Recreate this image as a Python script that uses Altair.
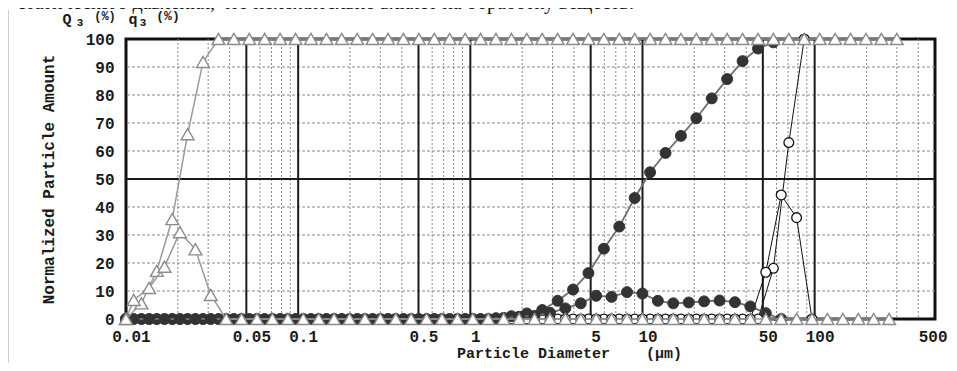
import altair as alt
import pandas as pd

# ---------------- data ----------------
# channel edges (um) used by the cumulative curves
grid_um = [0.01, 0.01229, 0.0151, 0.01856, 0.0228, 0.02802, 0.03444, 0.04232, 0.05201,
           0.06391, 0.07854, 0.0966, 0.1187, 0.1459, 0.1793, 0.2203, 0.2707, 0.3327,
           0.4088, 0.5024, 0.6174, 0.7588, 0.933, 1.147, 1.409, 1.732, 2.128, 2.615,
           3.214, 3.95, 4.854, 5.965, 7.331, 9.009, 11.07, 13.61, 16.72, 20.55, 25.25,
           31.03, 38.14, 46.87, 57.59, 70.78, 86.98, 107.0, 131.5, 161.6, 198.6, 244.1, 300.0]
# channel centres (um) used by the frequency curves (first point at the axis start)
mid_um = [0.01, 0.01109, 0.01362, 0.01674, 0.02057, 0.02529, 0.03107, 0.03819, 0.04693,
          0.05767, 0.07087, 0.0871, 0.1071, 0.1315, 0.1617, 0.1987, 0.2442, 0.3001,
          0.3688, 0.4532, 0.557, 0.6845, 0.8413, 1.034, 1.271, 1.562, 1.92, 2.36, 2.9,
          3.564, 4.379, 5.382, 6.614, 8.129, 9.992, 12.28, 15.09, 18.55, 22.8, 28.02,
          34.43, 42.31, 52.0, 63.91, 78.55, 96.52, 118.6, 145.8, 179.2, 220.2, 270.6]

# sample A (grey triangles)
tri_cum = [0, 5.6, 17.2, 35.7, 66.0, 91.8, 100, 100, 100, 100, 100, 100, 100, 100, 100,
           100, 100, 100, 100, 100, 100, 100, 100, 100, 100, 100, 100, 100, 100, 100, 100,
           100, 100, 100, 100, 100, 100, 100, 100, 100, 100, 100, 100, 100, 100, 100, 100,
           100, 100, 100, 100]
tri_freq = [0, 6.8, 11.1, 18.7, 31.0, 24.9, 8.6, 0, 0, 0, 0, 0, 0, 0, 0, 0, 0, 0, 0, 0,
            0, 0, 0, 0, 0, 0, 0, 0, 0, 0, 0, 0, 0, 0, 0, 0, 0, 0, 0, 0, 0, 0, 0, 0, 0, 0,
            0, 0, 0, 0, 0]
# sample B (filled circles)
blk_cum = [0, 0, 0, 0, 0, 0, 0, 0, 0, 0, 0, 0, 0, 0, 0, 0, 0, 0, 0, 0, 0, 0, 0, 0,
           0.3, 1.0, 2.0, 3.2, 6.5, 10.5, 16.4, 25.1, 33.0, 43.2, 52.4, 59.3, 65.4, 71.7,
           78.8, 85.7, 92.1, 96.6, 98.8]
blk_freq = [0, 0, 0, 0, 0, 0, 0, 0, 0, 0, 0, 0, 0, 0, 0, 0, 0, 0, 0, 0, 0, 0, 0, 0, 0,
            0.4, 0.8, 1.1, 2.2, 3.8, 5.6, 8.3, 7.9, 9.6, 9.1, 6.5, 5.6, 5.9, 6.3, 6.6, 6.0,
            4.5, 2.1, 0]
# sample C (open circles)
opn_cum = [0, 0, 0, 0, 0, 0, 0, 0, 0, 0, 0, 0, 0, 0, 0, 0, 0, 0, 0, 0, 0, 0, 0, 0, 0, 0,
           0, 0, 0, 0, 0, 0, 0, 0, 0, 0, 0, 0, 0, 0, 0, 0, 18.1, 63.0, 100]
opn_freq = [0, 0, 0, 0, 0, 0, 0, 0, 0, 0, 0, 0, 0, 0, 0, 0, 0, 0, 0, 0, 0, 0, 0, 0, 0, 0,
            0, 0, 0, 0, 0, 0, 0, 0, 0, 0, 0, 0, 0, 0, 0, 0, 16.7, 44.3, 36.2, 0]

x_labels = [0.01, 0.05, 0.1, 0.5, 1, 5, 10, 50, 100, 500]
y_labels = [0, 10, 20, 30, 40, 50, 60, 70, 80, 90, 100]
major_x = [0.05, 0.1, 0.5, 1, 5, 10, 50, 100]
minor_x = [0.02, 0.03, 0.04, 0.06, 0.07, 0.08, 0.09, 0.2, 0.3, 0.4, 0.6, 0.7, 0.8, 0.9,
           2, 3, 4, 6, 7, 8, 9, 20, 30, 40, 60, 70, 80, 90, 200, 300, 400]
major_y = [50]
minor_y = [10, 20, 30, 40, 60, 70, 80, 90]

header_text = "статического давления, что положительно влияет на обработку веществ."
unit_texts = ["Q", "3", "(%)", "q", "3", "(%)"]
x_title = "Particle Diameter\u00a0\u00a0\u00a0\u00a0(\u03bcm)"
y_title = "Normalized Particle Amount"

# ---------------- layout / style ----------------
W, H = 809, 280
FONT = "Liberation Mono"
xs = alt.Scale(type="log", domain=[0.01, 500], nice=False)
ys = alt.Scale(domain=[0, 100], nice=False, zero=False)

AX_X = alt.Axis(values=x_labels, format="~g", grid=False, ticks=False, tickSize=0,
                domain=False, labelFont=FONT, labelFontSize=16, labelFontWeight="bold",
                labelColor="#1a1a1a", labelBaseline="middle", labelPadding=17,
                labelOffset={"condition": {"test": "datum.value >= 500", "value": 12},
                             "value": 5},
                labelAlign={"condition": {"test": "datum.value >= 500", "value": "right"},
                            "value": "center"},
                labelOverlap=False, labelFlush=False, labelBound=False,
                titleFont=FONT, titleFontSize=15, titleFontWeight="bold",
                titleColor="#1a1a1a", titleX=443, titleY=33, titleAlign="center",
                titleBaseline="middle")
AX_Y = alt.Axis(values=y_labels, grid=False, ticks=False, tickSize=0, domain=False,
                labelFont=FONT, labelFontSize=16, labelFontWeight="bold",
                labelColor="#1a1a1a", labelPadding=12, titleFont=FONT, titleFontSize=16,
                titleFontWeight="bold", titleColor="#1a1a1a", titleAngle=-90,
                titleX=-78, titleY=140, titleAlign="center", titleBaseline="middle")

unit_pos = [(-59, -20, 15), (-46, -16, 11), (-21, -23, 12),
            (7, -20, 15), (17, -16, 11), (42, -23, 13)]


def X(field):
    return alt.X(field, scale=xs, axis=AX_X, title=x_title)


def Y(field):
    return alt.Y(field, scale=ys, axis=AX_Y, title=y_title)


def line_points(xv, yv, line_color, line_w, shape, size, fill, stroke, sw):
    df = pd.DataFrame({"d": xv[:len(yv)], "v": yv})
    base = alt.Chart(df).encode(x=X("d:Q"), y=Y("v:Q"))
    ln = base.mark_line(color=line_color, strokeWidth=line_w)
    pt = base.mark_point(shape=shape, size=size, filled=True, fill=fill, stroke=stroke,
                         strokeWidth=sw, opacity=1, fillOpacity=1)
    return [ln, pt]


frame = alt.Chart(pd.DataFrame({"a": [0]})).mark_rect(
    fill="white", stroke="#111111", strokeWidth=3
).encode(x=alt.value(0), x2=alt.value(W), y=alt.value(0), y2=alt.value(H))

minor_v = alt.Chart(pd.DataFrame({"d": minor_x})).mark_rule(
    color="#8a8a8a", strokeWidth=1, strokeDash=[2, 2]
).encode(x=X("d:Q"))
major_v = alt.Chart(pd.DataFrame({"d": major_x})).mark_rule(
    color="#1a1a1a", strokeWidth=2
).encode(x=X("d:Q"))
minor_h = alt.Chart(pd.DataFrame({"v": minor_y})).mark_rule(
    color="#8a8a8a", strokeWidth=1, strokeDash=[3, 2]
).encode(y=Y("v:Q"))
major_h = alt.Chart(pd.DataFrame({"v": major_y})).mark_rule(
    color="#1a1a1a", strokeWidth=2
).encode(y=Y("v:Q"))

layers = [frame, minor_v, minor_h, major_v, major_h]
layers += line_points(grid_um, opn_cum, "#111111", 1, "circle", 95, "white", "#111111", 1.3)
layers += line_points(mid_um, opn_freq, "#111111", 1, "circle", 95, "white", "#111111", 1.3)
layers += line_points(grid_um, blk_cum, "#6e6e6e", 1.8, "circle", 120, "#333333", "#333333", 1)
layers += line_points(mid_um, blk_freq, "#6e6e6e", 1.8, "circle", 120, "#333333", "#333333", 1)
layers += line_points(grid_um, tri_cum, "#9a9a9a", 1.5, "triangle-up", 165, "white", "#8a8a8a", 1.4)
layers += line_points(mid_um, tri_freq, "#9a9a9a", 1.5, "triangle-up", 165, "white", "#8a8a8a", 1.4)

# unit labels above the y axis
for t, (px, py, fs) in zip(unit_texts, unit_pos):
    layers.append(
        alt.Chart(pd.DataFrame({"t": [t]})).mark_text(
            font=FONT, fontWeight="bold", fontSize=fs, color="#1a1a1a",
            align="center", baseline="middle"
        ).encode(text="t:N", x=alt.value(px), y=alt.value(py))
    )

# cut-off line of document text at the very top
layers.append(
    alt.Chart(pd.DataFrame({"t": [header_text]})).mark_text(
        font="Liberation Serif", fontSize=20, color="#111111", align="left",
        baseline="alphabetic"
    ).encode(text="t:N", x=alt.value(-109), y=alt.value(-30))
)

# scan border on the left
layers.append(
    alt.Chart(pd.DataFrame({"a": [0]})).mark_rule(color="#cfcfcf", strokeWidth=1).encode(
        x=alt.value(-117.5), y=alt.value(-29), y2=alt.value(332)
    )
)

chart = alt.layer(*layers).properties(
    width=W, height=H,
    padding={"left": 118, "top": 31, "right": 14, "bottom": 44},
    autosize=alt.AutoSizeParams(type="none"),
).configure_view(stroke=None).configure(background="white")

chart.save("out.html", embed_options={"renderer": "svg", "actions": False})
